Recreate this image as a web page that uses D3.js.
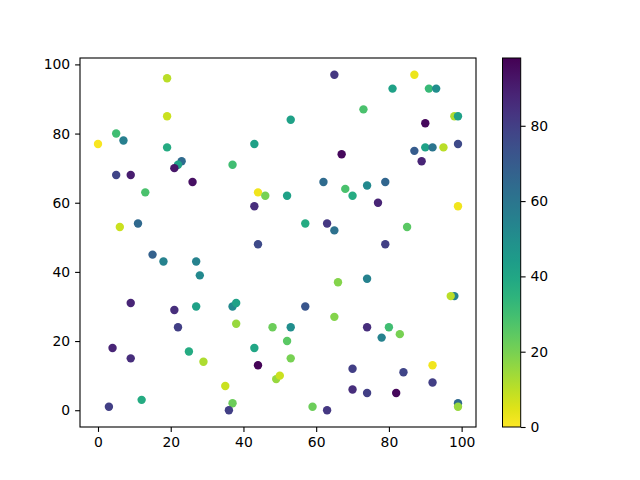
<!DOCTYPE html>
<html><head><meta charset="utf-8">
<script src="https://cdn.jsdelivr.net/npm/d3@7"></script>
<style>body{margin:0;background:#fff}svg{display:block}text{font-family:"DejaVu Sans",sans-serif}</style>
</head><body>
<script>
const xs=[19,19,5,7,0,19,43,23,22,21,37,5,9,26,13,44,46,43,6,11,44,
65,87,81,91,93,73,53,98,99,90,67,87,90,92,95,99,89,62,79,74,68,70,52,77,99,57,63,65,85,79,
15,18,27,28,9,21,27,37,38,22,38,48,4,25,43,9,29,44,49,50,35,12,37,3,36,
74,66,98,97,57,65,53,74,80,78,83,52,53,70,84,92,70,74,82,92,59,63,99,99];
const ys=[96,85,80,78,77,76,77,72,71,70,71,68,68,66,63,63,62,59,53,54,48,
97,97,93,93,93,87,84,85,85,83,74,75,76,76,76,77,72,66,66,65,64,62,62,60,59,54,54,52,53,48,
45,43,43,39,31,29,30,30,31,24,25,24,18,17,18,15,14,13,9,10,7,3,2,1,0,
38,37,33,33,30,27,24,24,24,21,22,20,15,12,11,13,6,5,5,8,1,0,2,1];
const cs=[10,8,30,56,1,38,42,64,42,92,30,78,90,94,28,2,20,85,8,65,76,
82,3,42,32,50,28,42,12,42,96,96,70,42,60,10,76,88,64,66,52,28,38,42,88,2,38,82,62,25,80,
68,55,55,52,88,85,42,52,42,80,15,22,88,38,40,85,12,97,15,8,8,38,22,80,80,
55,18,55,10,72,18,50,85,30,55,20,25,20,80,78,2,85,80,96,80,22,82,65,15];
const xTicks=[0,20,40,60,80,100], yTicks=[0,20,40,60,80,100], cTicks=[0,20,40,60,80];
const cMin=0,cMax=98;

const W=640,H=480;
const svg=d3.select("body").append("svg").attr("width",W).attr("height",H);
const L=80,R=476,T=58,B=427;
const x=d3.scaleLinear().domain([-4.95,103.95]).range([L,R]);
const y=d3.scaleLinear().domain([-4.85,101.85]).range([B,T]);
const col=v=>d3.interpolateViridis(1-(v-cMin)/(cMax-cMin));

const g=svg.append("g");
g.selectAll("circle").data(d3.range(xs.length)).join("circle")
 .attr("cx",i=>x(xs[i])).attr("cy",i=>y(ys[i])).attr("r",4.2).attr("fill",i=>col(cs[i]));

const ax=svg.append("g").attr("transform",`translate(0,${B})`).call(d3.axisBottom(x).tickValues(xTicks).tickSize(4.9).tickPadding(4.9));
const ay=svg.append("g").attr("transform",`translate(${L},0)`).call(d3.axisLeft(y).tickValues(yTicks).tickSize(4.9).tickPadding(4.9));
[ax,ay].forEach(a=>{a.select(".domain").remove();a.selectAll("text").attr("font-size",13.9).attr("font-family","DejaVu Sans").attr("fill","#000");a.selectAll("line").attr("stroke","#000").attr("stroke-width",1.1);});
svg.append("rect").attr("x",L).attr("y",T).attr("width",R-L).attr("height",B-T).attr("fill","none").attr("stroke","#000").attr("stroke-width",1.1);

// colorbar
const cL=502.5,cW=18.2;
const cy=d3.scaleLinear().domain([cMin,cMax]).range([B,T]);
const defs=svg.append("defs");
const grad=defs.append("linearGradient").attr("id","vg").attr("x1",0).attr("y1",1).attr("x2",0).attr("y2",0);
d3.range(0,1.0001,0.05).forEach(t=>grad.append("stop").attr("offset",t).attr("stop-color",d3.interpolateViridis(1-t)));
svg.append("rect").attr("x",cL).attr("y",T).attr("width",cW).attr("height",B-T).attr("fill","url(#vg)").attr("stroke","#000").attr("stroke-width",1);
const ac=svg.append("g").attr("transform",`translate(${cL+cW},0)`).call(d3.axisRight(cy).tickValues(cTicks).tickSize(4.9).tickPadding(4.9));
ac.select(".domain").remove();
ac.selectAll("text").attr("font-size",13.9).attr("font-family","DejaVu Sans").attr("fill","#000");
ac.selectAll("line").attr("stroke","#000").attr("stroke-width",1.1);
</script>
</body></html>
